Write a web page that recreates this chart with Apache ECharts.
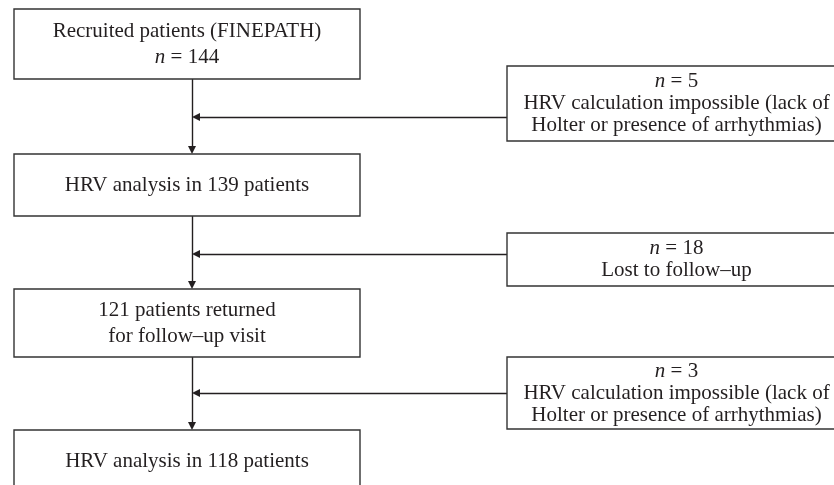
<!DOCTYPE html>
<html>
<head>
<meta charset="utf-8">
<script src="https://cdn.jsdelivr.net/npm/echarts@6/dist/echarts.min.js"></script>
<style>
  html, body { margin: 0; padding: 0; background: #fff; }
  #flow { width: 834px; height: 485px; }
</style>
</head>
<body>
<div id="flow"></div>
<script>
  // counts at each step of the flow
  const stepTitles = ['Recruited patients (FINEPATH)', 'HRV analysis in', 'patients returned', 'HRV analysis in'];
  const stepCounts = [144, 139, 121, 118];
  const lostCounts = [5, 18, 3];
  const lostReasons = [
    'HRV calculation impossible (lack of\nHolter or presence of arrhythmias)',
    'Lost to follow\u2013up',
    'HRV calculation impossible (lack of\nHolter or presence of arrhythmias)'
  ];

  // layout in page units (x: 0..834, y: 0..485 from top)
  const mainCol = [14, 360];
  const sideCol = [507, 846];
  const trunkX = 192;
  const mainRows = [[9, 79], [154, 216], [289, 357], [430, 492]];
  const sideRows = [[66, 141], [233, 286], [357, 429]];
  const branchY = [117, 254, 393];
  const tip = 4; // arrow head is centred on the line end, pull it back by half its length

  const ink = '#231f20';
  const font = '"Liberation Serif", "DejaVu Serif", serif';

  const mainText = [
    stepTitles[0] + '\n{i|n} = ' + stepCounts[0],
    stepTitles[1] + ' ' + stepCounts[1] + ' patients',
    stepCounts[2] + ' ' + stepTitles[2] + '\nfor follow\u2013up visit',
    stepTitles[3] + ' ' + stepCounts[3] + ' patients'
  ];
  const sideText = lostCounts.map((c, i) => '{i|n} = ' + c + '\n' + lostReasons[i]);

  const boxes = [];
  mainRows.forEach((r, i) => boxes.push({ value: [mainCol[0], r[0], mainCol[1], r[1]], text: mainText[i], lh: 26 }));
  sideRows.forEach((r, i) => boxes.push({ value: [sideCol[0], r[0], sideCol[1], r[1]], text: sideText[i], lh: 22 }));

  const arrows = [];
  for (let i = 0; i < mainRows.length - 1; i++) {
    arrows.push({ coords: [[trunkX, mainRows[i][1]], [trunkX, mainRows[i + 1][0] - tip]] });
  }
  branchY.forEach(y => arrows.push({ coords: [[sideCol[0], y], [trunkX + tip, y]] }));

  function renderBox(params, api) {
    const b = boxes[params.dataIndex];
    const p0 = api.coord([api.value(0), api.value(1)]);
    const p1 = api.coord([api.value(2), api.value(3)]);
    return {
      type: 'group',
      children: [
        {
          type: 'rect',
          shape: { x: p0[0], y: p0[1], width: p1[0] - p0[0], height: p1[1] - p0[1] },
          style: { fill: '#fff', stroke: '#333', lineWidth: 1.4 }
        },
        {
          type: 'text',
          x: (p0[0] + p1[0]) / 2,
          y: (p0[1] + p1[1]) / 2,
          style: {
            text: b.text,
            align: 'center',
            verticalAlign: 'middle',
            fill: ink,
            fontSize: 21,
            fontFamily: font,
            lineHeight: b.lh,
            rich: {
              i: { fontStyle: 'italic', fontSize: 21, fontFamily: font, fill: ink, lineHeight: b.lh }
            }
          }
        }
      ]
    };
  }

  const chart = echarts.init(document.getElementById('flow'));
  chart.setOption({
    animation: false,
    grid: { left: 0, right: 0, top: 0, bottom: 0 },
    xAxis: { type: 'value', min: 0, max: 834, show: false },
    yAxis: { type: 'value', min: 0, max: 485, inverse: true, show: false },
    series: [
      {
        type: 'lines',
        coordinateSystem: 'cartesian2d',
        data: arrows,
        symbol: ['none', 'triangle'],
        symbolSize: [6, 8],
        lineStyle: { color: ink, width: 1.4, opacity: 1 },
        z: 1
      },
      {
        type: 'custom',
        renderItem: renderBox,
        data: boxes.map(b => b.value),
        z: 2
      }
    ]
  });
</script>
</body>
</html>
